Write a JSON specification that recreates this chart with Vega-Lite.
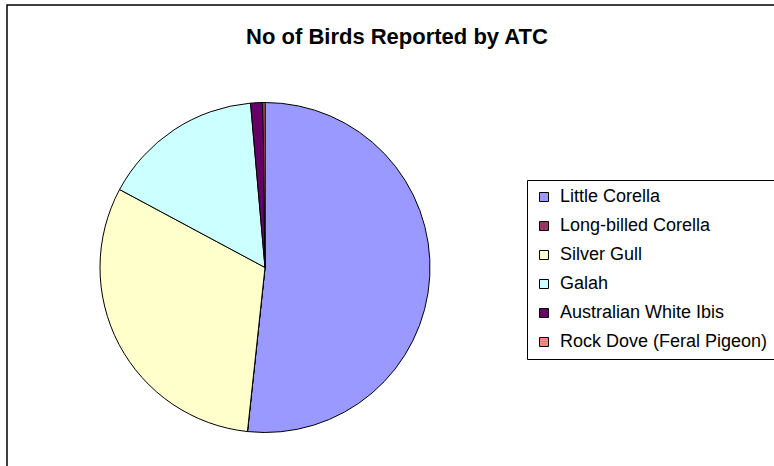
{
  "$schema": "https://vega.github.io/schema/vega-lite/v6.json",
  "autosize": "none",
  "padding": {"left": 7, "top": 5, "right": 0, "bottom": 0},
  "width": 800,
  "height": 500,
  "background": "white",
  "view": {"stroke": "#000000", "strokeWidth": 1.5, "fill": "white"},
  "title": {
    "text": "No of Birds Reported by ATC",
    "font": "Liberation Sans",
    "fontSize": 22,
    "fontWeight": "bold",
    "color": "#000000",
    "anchor": "middle",
    "dx": -10,
    "dy": 48
  },
  "data": {
    "values": [
      {"idx": 1, "bird": "Little Corella", "count": 259},
      {"idx": 2, "bird": "Long-billed Corella", "count": 0},
      {"idx": 3, "bird": "Silver Gull", "count": 156},
      {"idx": 4, "bird": "Galah", "count": 79},
      {"idx": 5, "bird": "Australian White Ibis", "count": 6},
      {"idx": 6, "bird": "Rock Dove (Feral Pigeon)", "count": 1}
    ]
  },
  "mark": {"type": "arc", "radius": 165, "stroke": "#000000", "strokeWidth": 1, "xOffset": -142, "yOffset": 12.5},
  "encoding": {
    "theta": {"field": "count", "type": "quantitative", "stack": true},
    "order": {"field": "idx", "type": "quantitative"},
    "color": {
      "field": "bird",
      "type": "nominal",
      "scale": {
        "domain": ["Little Corella", "Long-billed Corella", "Silver Gull", "Galah", "Australian White Ibis", "Rock Dove (Feral Pigeon)"],
        "range": ["#9999FF", "#993366", "#FFFFCC", "#CCFFFF", "#660066", "#FF8080"]
      },
      "legend": {
        "title": null,
        "orient": "none",
        "legendX": 520,
        "legendY": 175,
        "padding": 8,
        "rowPadding": 11,
        "fillColor": "white",
        "strokeColor": "#000000",
        "symbolType": "square",
        "symbolSize": 81,
        "symbolStrokeColor": "#000000",
        "symbolStrokeWidth": 1,
        "symbolOpacity": 1,
        "labelFont": "Liberation Sans",
        "labelFontSize": 18,
        "labelColor": "#000000",
        "labelOffset": 7,
        "labelLimit": 300
      }
    }
  }
}
